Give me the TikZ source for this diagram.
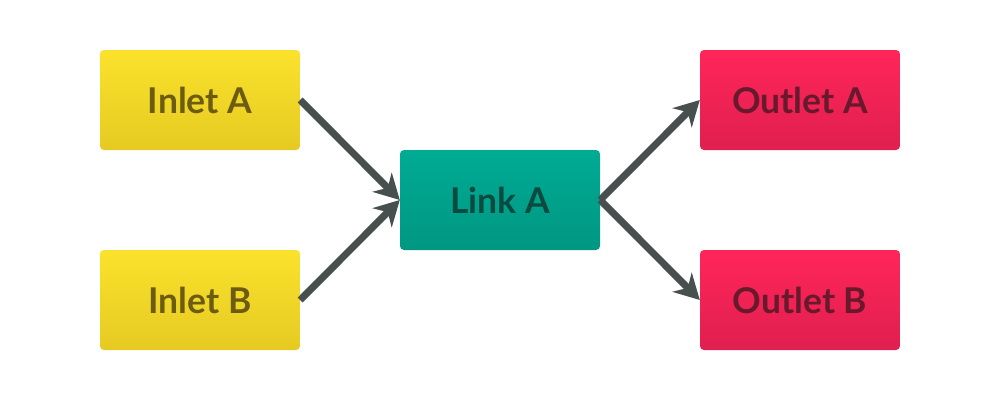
\documentclass[tikz,border=0pt]{standalone}
\usepackage{fontspec}
\setmainfont{Lato}[UprightFont=* Bold]
\usetikzlibrary{arrows.meta}
\definecolor{yelT}{HTML}{FAE22C}
\definecolor{yelB}{HTML}{E6CA22}
\definecolor{yelTx}{HTML}{6B5C12}
\definecolor{tealT}{HTML}{00AB94}
\definecolor{tealB}{HTML}{009782}
\definecolor{tealTx}{HTML}{0B4A40}
\definecolor{redT}{HTML}{FF2559}
\definecolor{redB}{HTML}{E01F50}
\definecolor{redTx}{HTML}{681A2C}
\definecolor{arrc}{HTML}{474F4F}
\tikzset{
  box/.style={minimum width=200pt, minimum height=100pt, rounded corners=4pt, inner sep=0pt, font=\fontsize{35.5}{40}\selectfont, shading angle=25},
  inlet/.style={box, top color=yelT, bottom color=yelB, text=yelTx},
  link/.style={box, top color=tealT, bottom color=tealB, text=tealTx},
  outlet/.style={box, top color=redT, bottom color=redB, text=redTx},
  arr/.style={draw=arrc, line width=7pt, -{Stealth[length=25pt, width=27pt, inset=8pt]}}
}
\begin{document}
\begin{tikzpicture}[x=1pt,y=1pt]
\useasboundingbox[fill=white] (0,0) rectangle (1000,400);
\node[inlet] (ia) at (200,300) {Inlet A};
\node[inlet] (ib) at (200,100) {Inlet B};
\node[link] (la) at (500,200) {Link A};
\node[outlet] (oa) at (800,300) {Outlet A};
\node[outlet] (ob) at (800,100) {Outlet B};
\draw[arr] (ia.east) -- (la.west);
\draw[arr] (ib.east) -- (la.west);
\draw[arr] (la.east) -- (oa.west);
\draw[arr] (la.east) -- (ob.west);
\end{tikzpicture}
\end{document}
